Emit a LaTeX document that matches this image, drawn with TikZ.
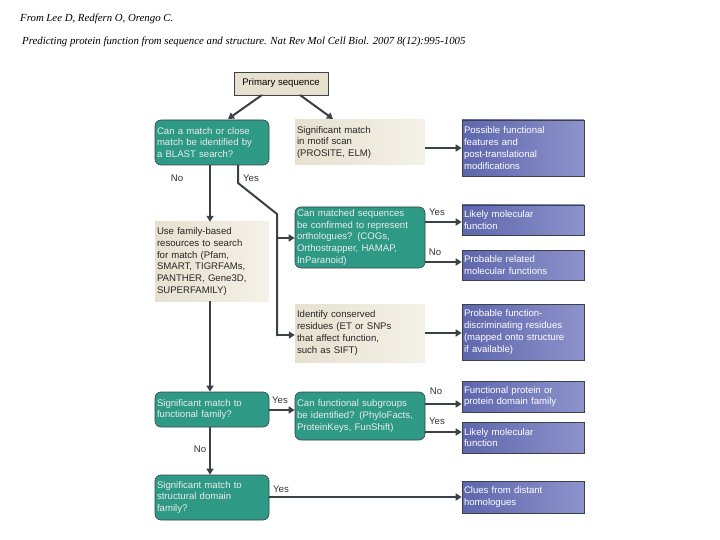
\documentclass[tikz,border=0pt]{standalone}
\usepackage{fontspec}
\setmainfont{Liberation Serif}
\newfontfamily\boxfont{Liberation Sans}
\usetikzlibrary{arrows.meta}
\definecolor{teal1}{HTML}{2E9A86}
\definecolor{beige1}{HTML}{E6E1CF}
\definecolor{beige2}{HTML}{F4F1E8}
\definecolor{blue1}{HTML}{5E66AD}
\definecolor{blue2}{HTML}{8D93CB}
\definecolor{arr}{HTML}{3A4248}
\tikzset{
 base/.style={inner sep=2pt, align=left, font=\boxfont\fontsize{9.6}{11.8}\selectfont, anchor=center},
 tbox/.style={base, fill=teal1, draw=arr, line width=0.6pt, rounded corners=6pt, text=white!92!black},
 bbox/.style={base, left color=beige1, right color=beige2, draw=none, text=black!85},
 vbox/.style={base, left color=blue1, right color=blue2, draw=arr, line width=0.6pt, text=white},
 pbox/.style={base, fill=beige1, draw=arr, line width=0.8pt},
 conn/.style={draw=arr, line width=2pt, -{Triangle[length=6pt,width=7pt]}},
 lab/.style={font=\boxfont\fontsize{9.6}{11}\selectfont, text=black!80, inner sep=1pt}
}
\newcommand{\bx}[7]{\node[#1, minimum width=#4pt-#2pt, minimum height=#5pt-#3pt, text width=#4pt-#2pt-4pt] (#6) at ({(#2+#4)/2},{(#3+#5)/2}) {#7};}
\begin{document}
\begin{tikzpicture}[x=1pt,y=-1pt]
\useasboundingbox (0,0) rectangle (720,540);
\node[anchor=west, inner sep=0, font=\itshape\fontsize{10.8}{12}\selectfont] (h1) at (20,19) {From Lee D, Redfern O, Orengo C.};
\node[anchor=west, inner sep=0, font=\itshape\fontsize{10.8}{12}\selectfont] (h2) at (22,42) {Predicting protein function from sequence and structure. Nat Rev Mol Cell Biol. 2007 8(12):995-1005};
\node[pbox, minimum width=94pt, minimum height=23pt] (prim) at (281,83.5) {Primary sequence};
\bx{tbox}{155}{120}{269}{165}{blast}{Can a match or close\\match be identified by\\a BLAST search?}
\bx{bbox}{295}{120}{425}{165}{motif}{Significant match\\in motif scan\\(PROSITE, ELM)}
\bx{vbox}{462}{120}{584}{176}{poss}{Possible functional\\features and\\post-translational\\modifications}
\bx{bbox}{155}{222}{269}{301}{fam}{Use family-based\\resources to search\\for match (Pfam,\\SMART, TIGRFAMs,\\PANTHER, Gene3D,\\SUPERFAMILY)}
\bx{tbox}{295}{207}{425}{268}{orth}{Can matched sequences\\be confirmed to represent\\orthologues? (COGs,\\Orthostrapper, HAMAP,\\InParanoid)}
\bx{vbox}{462}{205}{584}{235}{lik1}{Likely molecular\\function}
\bx{vbox}{462}{250}{584}{280}{prel}{Probable related\\molecular functions}
\bx{bbox}{295}{304}{425}{362}{cons}{Identify conserved\\residues (ET or SNPs\\that affect function,\\such as SIFT)}
\bx{vbox}{462}{304}{584}{360}{pdisc}{Probable function-\\discriminating residues\\(mapped onto structure\\if available)}
\bx{tbox}{155}{392}{269}{427}{sigf}{Significant match to\\functional family?}
\bx{tbox}{295}{392}{425}{440}{subg}{Can functional subgroups\\be identified? (PhyloFacts,\\ProteinKeys, FunShift)}
\bx{vbox}{462}{381}{584}{412}{fprot}{Functional protein or\\protein domain family}
\bx{vbox}{462}{422}{584}{453}{lik2}{Likely molecular\\function}
\bx{tbox}{155}{475}{269}{520}{struc}{Significant match to\\structural domain\\family?}
\bx{vbox}{462}{481}{584}{513}{clue}{Clues from distant\\homologues}
\draw[conn] (262,95) -- (228,119);
\draw[conn] (300,95) -- (333,119);
\draw[conn] (motif.east|-0,148) -- (poss.west|-0,148);
\draw[conn] (210,165) -- (fam.north-|210,0);
\node[lab] (lno1) at (177,178) {No};
\draw[conn, -, line join=round] (238,165) -- (238,183) -- (277,214) -- (277,336);
\node[lab] (lyes1) at (251,178) {Yes};
\coordinate (jx) at (277,238);
\draw[conn] (jx) -- (orth.west|-jx);
\draw[conn] (277,335) -- (cons.west|-0,335);
\draw[conn] (425,222) -- (lik1.west|-0,222);
\node[lab] (ly2) at (437,212) {Yes};
\draw[conn] (425,262) -- (prel.west|-0,262);
\node[lab] (ln2) at (435,252) {No};
\draw[conn] (cons.east|-0,333) -- (pdisc.west|-0,333);
\draw[conn] (210,301) -- (sigf.north-|210,0);
\draw[conn] (269,410) -- (subg.west|-0,410);
\node[lab] (ly3) at (280,400) {Yes};
\draw[conn] (210,427) -- (struc.north-|210,0);
\node[lab] (ln3) at (200,449) {No};
\draw[conn] (425,404) -- (fprot.west|-0,404);
\node[lab] (ln4) at (436,391) {No};
\draw[conn] (425,432) -- (lik2.west|-0,432);
\node[lab] (ly4) at (437,421) {Yes};
\draw[conn] (269,497) -- (clue.west|-0,497);
\node[lab] (ly5) at (281,489) {Yes};
\end{tikzpicture}
\end{document}
